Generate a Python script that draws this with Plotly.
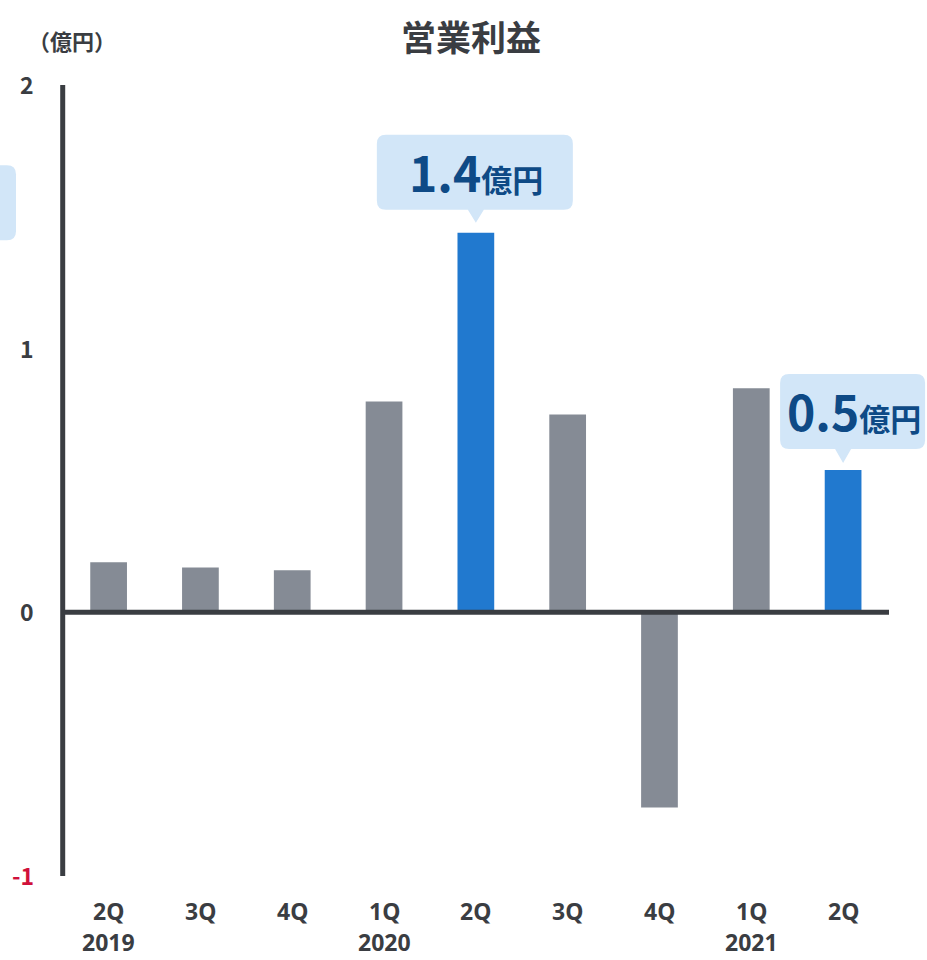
import plotly.graph_objects as go

# ---- data ----
quarters = ["2Q", "3Q", "4Q", "1Q", "2Q", "3Q", "4Q", "1Q", "2Q"]
years = ["2019", "", "", "2020", "", "", "", "2021", ""]
profit = [0.19, 0.17, 0.16, 0.80, 1.44, 0.75, -0.74, 0.85, 0.54]
highlight = [False, False, False, False, True, False, False, False, True]
callout_idx = [4, 8]
callout_num = ["1.4", "0.5"]
callout_unit = "億円"
y_ticks = [2, 1, 0, -1]
y_tick_text = ["2", "1", "0", "-1"]
title_text = "営業利益"
unit_text = "（億円）"

FONT = "Noto Sans CJK JP"
LATIN = "Noto Sans"
DARK = "#3a3d42"
GRAY = "#858b95"
BLUE = "#2179cf"
CALLOUT_BG = "#d2e6f8"
CALLOUT_TXT = "#0e4a86"
RED = "#d0103a"

X_RANGE = [-0.78, 8.5]

x = list(range(len(profit)))
colors = [BLUE if h else GRAY for h in highlight]

fig = go.Figure()
fig.add_trace(go.Bar(x=x, y=profit, marker=dict(color=colors, line=dict(width=0)),
                     width=0.40, hoverinfo="skip"))

shapes = []
# vertical axis line
shapes.append(dict(type="line", xref="x", yref="y", x0=-0.5, x1=-0.5, y0=-1, y1=2,
                   line=dict(color=DARK, width=5), layer="above"))
# zero line
shapes.append(dict(type="line", xref="x", yref="y", x0=-0.5, x1=8.5, y0=0, y1=0,
                   line=dict(color=DARK, width=5), layer="above"))


def callout_path(l, rgt, b, t, tip, r=9, hw=8):
    return (f"M {l+r},{b} L {-hw},{b} L 0,{tip} L {hw},{b} L {rgt-r},{b} "
            f"Q {rgt},{b} {rgt},{b+r} L {rgt},{t-r} Q {rgt},{t} {rgt-r},{t} "
            f"L {l+r},{t} Q {l},{t} {l},{t-r} L {l},{b+r} Q {l},{b} {l+r},{b} Z")


def to_paper(v):
    return (v - X_RANGE[0]) / (X_RANGE[1] - X_RANGE[0])


geom = {4: (-99, 97, 23, 98, 10), 8: (-63, 82, 21, 96, 7)}
annotations = []
for k, idx in enumerate(callout_idx):
    l, rgt, b, t, tip = geom[idx]
    # paper x-ref so the bubble is not clipped at the plot's right edge
    shapes.append(dict(type="path", xref="paper", yref="y", xsizemode="pixel", ysizemode="pixel",
                       xanchor=to_paper(idx), yanchor=profit[idx],
                       path=callout_path(l, rgt, b, t, tip),
                       fillcolor=CALLOUT_BG, line=dict(width=0), layer="above"))
    annotations.append(dict(
        xref="x", yref="y", x=idx, y=profit[idx], xanchor="center", yanchor="middle",
        xshift=(l + rgt) / 2 + 1, yshift=(b + t) / 2 + 1, showarrow=False,
        text=f"<b>{callout_num[k]}</b><span style='font-size:31px'><b>{callout_unit}</b></span>",
        font=dict(family=FONT, size=48, color=CALLOUT_TXT)))

# partially visible callout at left edge
shapes.append(dict(type="path", xref="paper", yref="y", xsizemode="pixel", ysizemode="pixel",
                   xanchor=0, yanchor=0,
                   path="M -60,372 L -30,372 Q -21,372 -21,381 L -21,438 Q -21,447 -30,447 L -60,447 Z",
                   fillcolor=CALLOUT_BG, line=dict(width=0), layer="above"))

# y tick labels
for v, txt in zip(y_ticks, y_tick_text):
    annotations.append(dict(xref="paper", yref="y", x=0, y=v, xanchor="right", yanchor="middle",
                            xshift=-1, yshift=1, showarrow=False, text=f"<b>{txt}</b>",
                            font=dict(family=FONT, size=23, color=RED if v < 0 else DARK)))

# x tick labels: quarter row and year row
for i in x:
    annotations.append(dict(xref="x", yref="paper", x=i, y=0, xanchor="center", yanchor="bottom",
                            yshift=-53, showarrow=False, text=f"<b>{quarters[i]}</b>",
                            font=dict(family=LATIN, size=23, color=DARK)))
    if years[i]:
        annotations.append(dict(xref="x", yref="paper", x=i, y=0, xanchor="center", yanchor="bottom",
                                yshift=-84, showarrow=False, text=f"<b>{years[i]}</b>",
                                font=dict(family=LATIN, size=23, color=DARK)))

# title and unit
annotations.append(dict(xref="paper", yref="paper", x=0.5, y=1, xanchor="center", yanchor="middle",
                        xshift=8, yshift=85 - 35, showarrow=False, text=f"<b>{title_text}</b>",
                        font=dict(family=FONT, size=35, color=DARK)))
annotations.append(dict(xref="paper", yref="paper", x=0, y=1, xanchor="left", yanchor="middle",
                        xshift=-37 + 26, yshift=85 - 40, showarrow=False, text=f"<b>{unit_text}</b>",
                        font=dict(family=FONT, size=22, color=DARK)))

fig.update_layout(
    width=927, height=960,
    margin=dict(l=37, r=38, t=85, b=84),
    paper_bgcolor="white", plot_bgcolor="white",
    showlegend=False,
    xaxis=dict(range=X_RANGE, showticklabels=False, showgrid=False, zeroline=False,
               showline=False, ticks="", fixedrange=True),
    yaxis=dict(range=[-1, 2], showticklabels=False, showgrid=False, zeroline=False,
               showline=False, ticks="", fixedrange=True),
    shapes=shapes, annotations=annotations,
    font=dict(family=FONT),
)

# remove the page's default 8px body margin so the figure fills the window exactly
fig.write_html("out.html", config={"displayModeBar": False},
               post_script="document.body.style.margin='0px';")
